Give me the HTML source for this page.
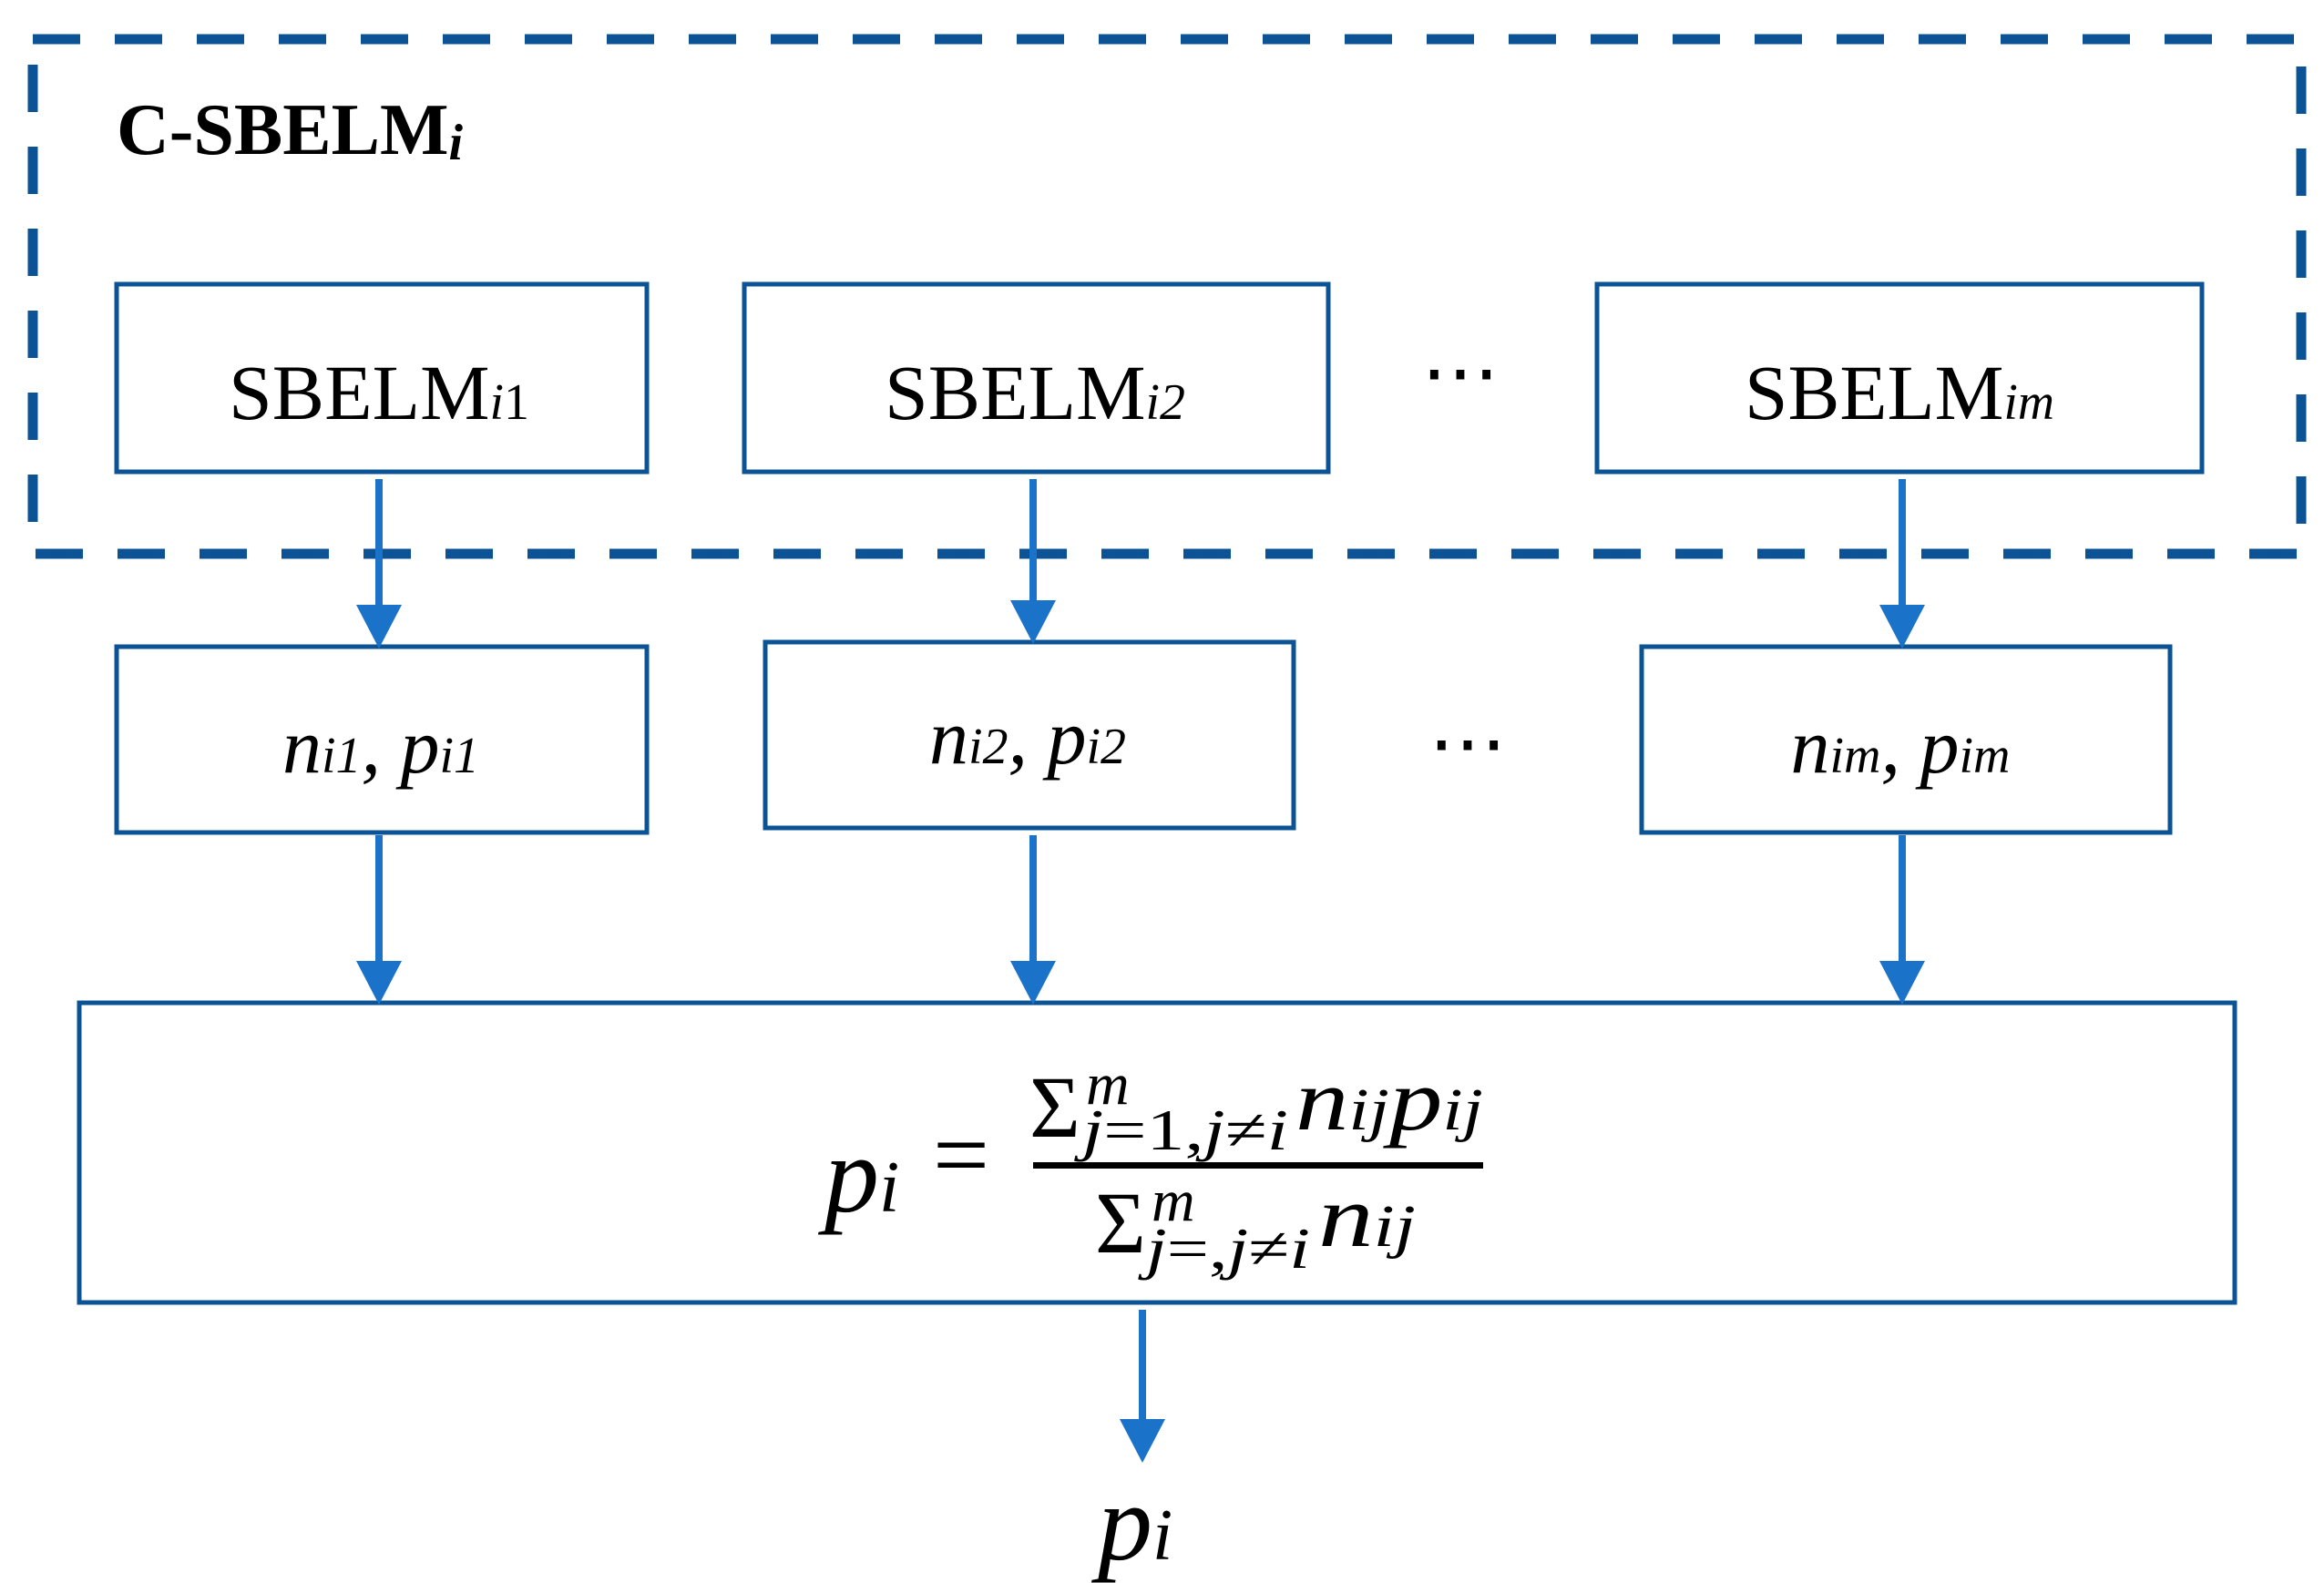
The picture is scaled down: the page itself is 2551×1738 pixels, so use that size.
<!DOCTYPE html>
<html><head><meta charset="utf-8"><style>
html,body{margin:0;padding:0;background:#fff;}
svg{display:block;}
.t{font-family:"Liberation Serif",serif;fill:#000;}
</style></head><body>
<svg width="2551" height="1738" viewBox="0 0 2551 1738" xmlns="http://www.w3.org/2000/svg">
<!-- dashed container -->
<rect x="36" y="43" width="2490" height="565" fill="none" stroke="#0b5394" stroke-width="11" stroke-dasharray="52 38"/>
<text class="t" x="128" y="169" font-size="80" font-weight="bold">C-SBELM<tspan font-style="italic" font-size="56" dy="6">i</tspan></text>

<g fill="none" stroke="#0b5394" stroke-width="5">
<rect x="128" y="312" width="582" height="206"/>
<rect x="817" y="312" width="641" height="206"/>
<rect x="1753" y="312" width="664" height="206"/>
<rect x="128" y="710" width="582" height="204"/>
<rect x="840" y="705" width="580" height="204"/>
<rect x="1802" y="710" width="580" height="204"/>
<rect x="87" y="1101" width="2366" height="329"/>
</g>
<g class="t" font-size="86" text-anchor="middle">
<text x="416" y="460" textLength="330" lengthAdjust="spacingAndGlyphs">SBELM<tspan font-style="italic" font-size="56">i</tspan><tspan font-size="56">1</tspan></text>
<text x="1136" y="460" textLength="330" lengthAdjust="spacingAndGlyphs">SBELM<tspan font-style="italic" font-size="56">i2</tspan></text>
<text x="2085" y="460" textLength="340" lengthAdjust="spacingAndGlyphs">SBELM<tspan font-style="italic" font-size="56">im</tspan></text>
<text x="1603" y="438">⋯</text>
<text x="1611" y="845">⋯</text>
</g>
<g class="t" font-size="86" font-style="italic" text-anchor="middle">
<text x="418" y="848">n<tspan font-size="56">i1</tspan>, p<tspan font-size="56">i1</tspan></text>
<text x="1128" y="838">n<tspan font-size="56">i2</tspan>, p<tspan font-size="56">i2</tspan></text>
<text x="2086" y="848">n<tspan font-size="56">im</tspan>, p<tspan font-size="56">im</tspan></text>
</g>

<g stroke="#1a73c8" stroke-width="8">
<line x1="416" y1="526" x2="416" y2="670"/>
<line x1="1134" y1="526" x2="1134" y2="665"/>
<line x1="2088" y1="526" x2="2088" y2="670"/>
<line x1="416" y1="917" x2="416" y2="1060"/>
<line x1="1134" y1="917" x2="1134" y2="1060"/>
<line x1="2088" y1="917" x2="2088" y2="1060"/>
<line x1="1254" y1="1438" x2="1254" y2="1565"/>
</g>
<g fill="#1a73c8">
<polygon points="391,664 441,664 416,712"/>
<polygon points="1109,659 1159,659 1134,707"/>
<polygon points="2063,664 2113,664 2088,712"/>
<polygon points="391,1055 441,1055 416,1103"/>
<polygon points="1109,1055 1159,1055 1134,1103"/>
<polygon points="2063,1055 2113,1055 2088,1103"/>
<polygon points="1229,1558 1279,1558 1254,1606"/>
</g>

<g class="t" font-style="italic">
<text x="905" y="1330" font-size="120">p<tspan font-size="80">i</tspan></text>
<text x="1024" y="1305" font-size="110" font-style="normal">=</text>
<text x="1130" y="1248" font-size="96" font-style="normal">Σ</text>
<text x="1192" y="1212" font-size="66">m</text>
<text x="1188" y="1262" font-size="64" textLength="226" lengthAdjust="spacingAndGlyphs">j<tspan font-style="normal">=1,</tspan>j<tspan font-style="normal">≠</tspan>i</text>
<text x="1422" y="1240" font-size="96" textLength="206" lengthAdjust="spacingAndGlyphs">n<tspan font-size="66">ij</tspan>p<tspan font-size="66">ij</tspan></text>
<rect x="1134" y="1276" width="494" height="7" fill="#000"/>
<text x="1202" y="1375" font-size="96" font-style="normal">Σ</text>
<text x="1264" y="1340" font-size="66">m</text>
<text x="1258" y="1392" font-size="64" textLength="180" lengthAdjust="spacingAndGlyphs">j<tspan font-style="normal">=,</tspan>j<tspan font-style="normal">≠</tspan>i</text>
<text x="1447" y="1368" font-size="96" textLength="107" lengthAdjust="spacingAndGlyphs">n<tspan font-size="66">ij</tspan></text>
<text x="1205" y="1712" font-size="120">p<tspan font-size="80">i</tspan></text>
</g>
</svg>
</body></html>
